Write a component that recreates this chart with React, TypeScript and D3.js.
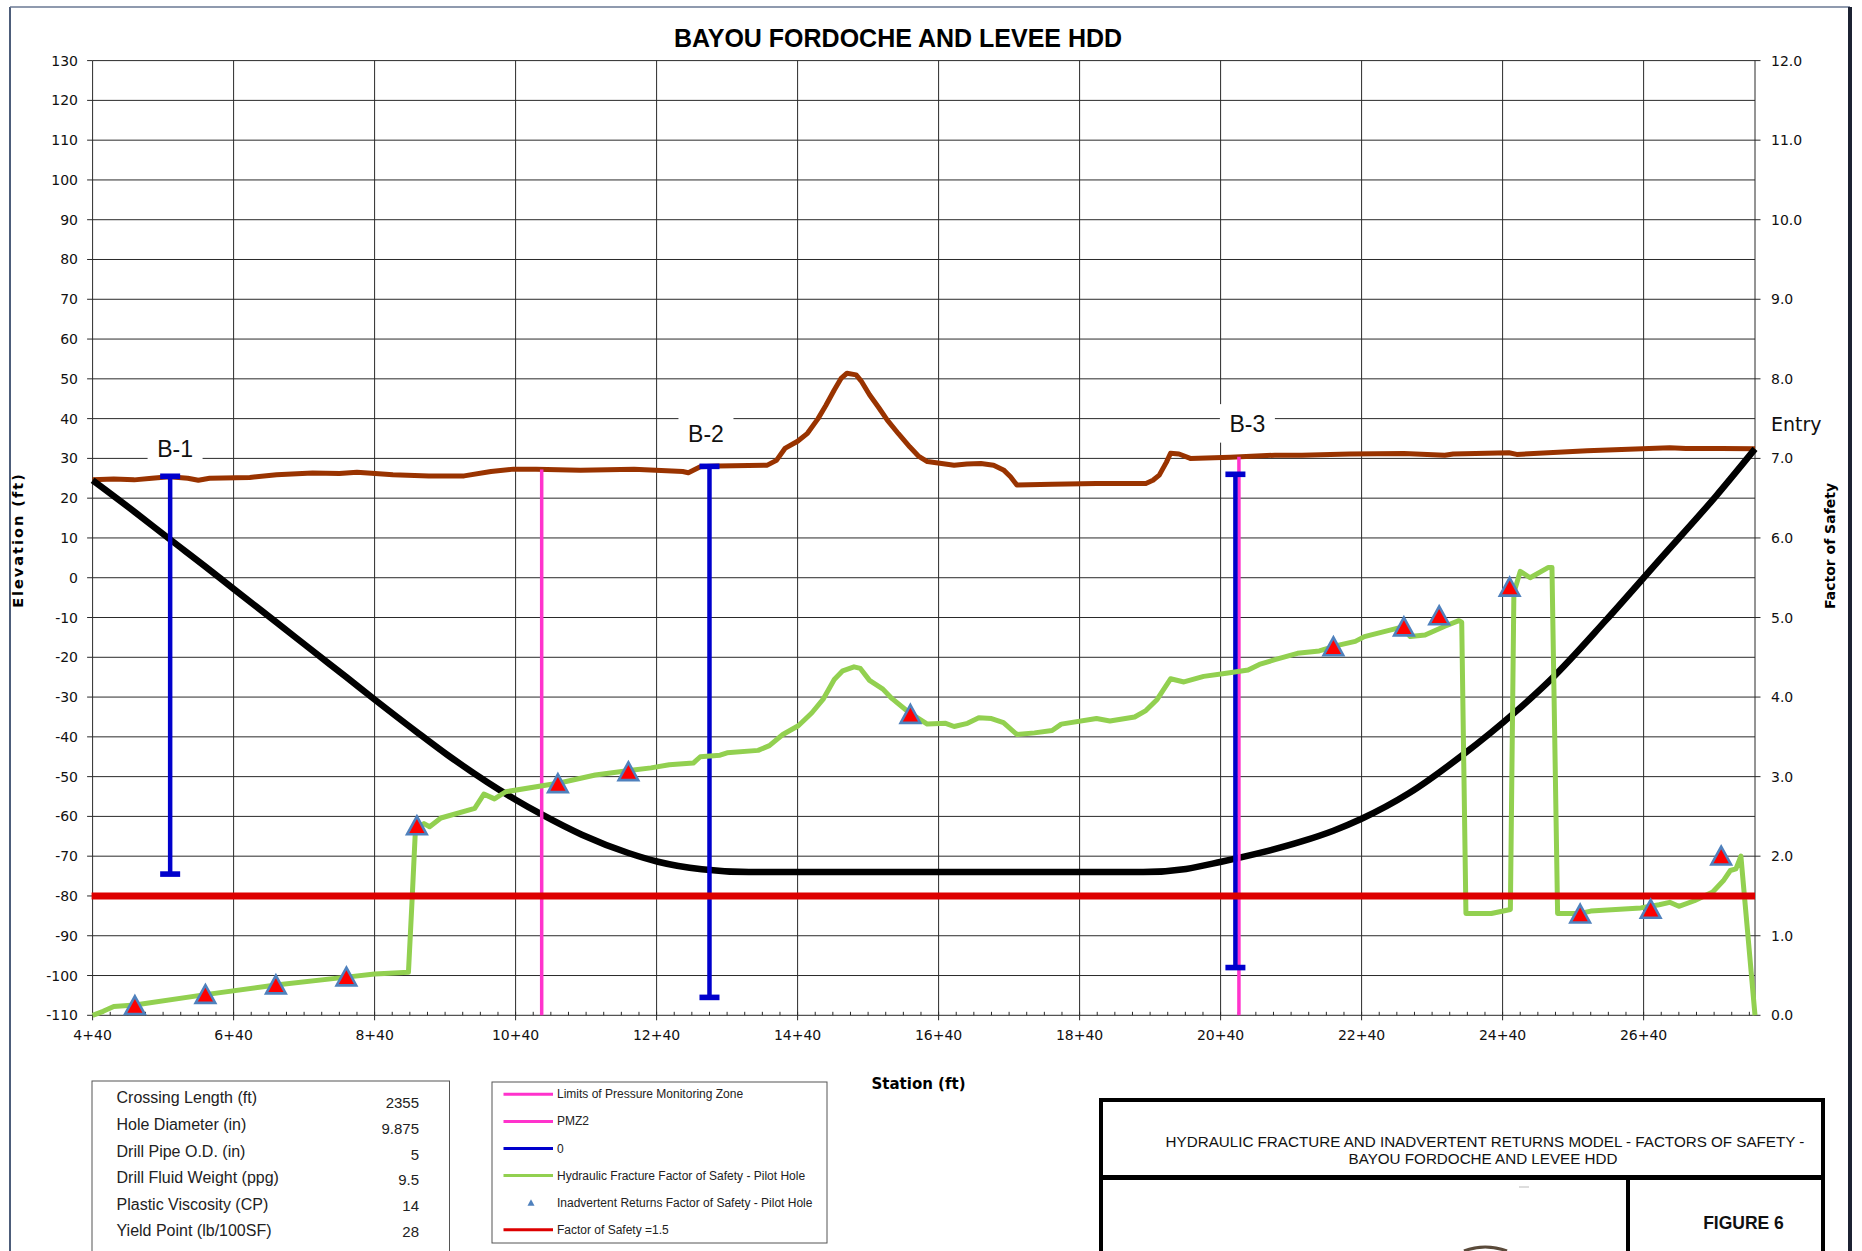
import React from 'react';
import * as d3 from 'd3';

// ---------- DATA ----------
const groundStation = [440, 470, 499, 524, 549, 575, 590, 606, 663, 701, 752, 790, 815, 866, 917, 967, 1005, 1037, 1069, 1132, 1208, 1277, 1285, 1302, 1327, 1397, 1410, 1422, 1440, 1454, 1469, 1480, 1492, 1502, 1510, 1523, 1530, 1542, 1555, 1567, 1583, 1599, 1612, 1624, 1662, 1680, 1700, 1718, 1732, 1742, 1751, 1801, 1864, 1934, 1944, 1953, 1963, 1969, 1981, 1997, 2054, 2117, 2155, 2223, 2300, 2358, 2370, 2449, 2460, 2560, 2677, 2700, 2750, 2798];
const groundElev = [24.6, 24.8, 24.6, 25.0, 25.4, 25.0, 24.5, 25.0, 25.2, 25.9, 26.3, 26.2, 26.5, 25.9, 25.6, 25.6, 26.7, 27.3, 27.3, 27.0, 27.3, 26.7, 26.4, 27.9, 28.1, 28.3, 29.5, 32.5, 34.3, 36.3, 40.0, 43.3, 47.2, 50.2, 51.4, 51.0, 49.5, 46.0, 42.8, 39.7, 36.2, 32.9, 30.5, 29.2, 28.3, 28.6, 28.7, 28.3, 27.1, 25.4, 23.3, 23.5, 23.7, 23.7, 24.5, 25.8, 29.0, 31.3, 31.1, 30.0, 30.3, 30.8, 30.8, 31.1, 31.2, 30.8, 31.1, 31.4, 31.0, 31.9, 32.7, 32.5, 32.5, 32.4];

const pilotStation = [440, 500, 550, 600, 640, 700, 753, 800, 840, 900, 943, 1000, 1040, 1077, 1134, 1200, 1242, 1304, 1371, 1930, 1991, 2041, 2100, 2155, 2200, 2240, 2307, 2383, 2459, 2510, 2586, 2662, 2743, 2798];
const pilotElev = [24.5, 16.5, 9.6, 2.8, -2.8, -11.1, -18.5, -25.0, -30.6, -38.8, -44.5, -51.4, -55.8, -59.5, -64.6, -69.2, -71.4, -73.3, -74.0, -74.0, -73.2, -71.4, -69.0, -66.3, -63.6, -60.6, -54.2, -44.6, -33.6, -25.3, -10.8, 4.4, 20.6, 32.4];

const hfStation = [440, 455, 470, 500, 600, 700, 800, 840, 888, 893, 898, 910, 918, 934, 982, 995, 1010, 1026, 1102, 1153, 1204, 1232, 1258, 1292, 1302, 1330, 1340, 1384, 1400, 1419, 1441, 1460, 1476, 1492, 1504, 1520, 1529, 1542, 1561, 1574, 1599, 1624, 1650, 1662, 1681, 1697, 1715, 1732, 1751, 1776, 1801, 1814, 1864, 1883, 1918, 1934, 1950, 1969, 1988, 2016, 2048, 2079, 2095, 2117, 2149, 2180, 2206, 2231, 2244, 2297, 2309, 2330, 2358, 2378, 2382, 2388, 2424, 2451, 2456, 2465, 2479, 2505, 2510, 2518, 2550, 2565, 2636, 2662, 2677, 2690, 2712, 2738, 2753, 2763, 2771, 2778, 2798];
const hfFactor = [0.0, 0.05, 0.11, 0.13, 0.26, 0.38, 0.48, 0.52, 0.54, 1.42, 2.35, 2.41, 2.37, 2.48, 2.60, 2.78, 2.72, 2.81, 2.92, 3.02, 3.08, 3.11, 3.15, 3.17, 3.25, 3.27, 3.30, 3.33, 3.39, 3.53, 3.64, 3.80, 3.97, 4.22, 4.33, 4.38, 4.36, 4.21, 4.10, 3.98, 3.80, 3.66, 3.67, 3.63, 3.67, 3.74, 3.73, 3.68, 3.53, 3.55, 3.58, 3.66, 3.73, 3.70, 3.75, 3.83, 3.97, 4.23, 4.19, 4.26, 4.30, 4.34, 4.41, 4.47, 4.55, 4.58, 4.65, 4.70, 4.76, 4.88, 4.76, 4.78, 4.89, 4.96, 4.94, 1.28, 1.28, 1.33, 5.31, 5.58, 5.50, 5.63, 5.63, 1.28, 1.28, 1.31, 1.35, 1.39, 1.42, 1.37, 1.44, 1.55, 1.69, 1.82, 1.84, 2.00, 0.0];

const irStation = [500, 600, 700, 800, 900, 1100, 1200, 1600, 2200, 2300, 2350, 2450, 2550, 2650, 2750];
const irFactor = [0.12, 0.26, 0.38, 0.48, 2.38, 2.91, 3.06, 3.78, 4.63, 4.88, 5.02, 5.38, 1.27, 1.33, 2.0];

const boreName = ['B-1', 'B-2', 'B-3'];
const boreStation = [550, 1315, 2061];
const boreTop = [25.5, 28.0, 26.0];
const boreBottom = [-74.5, -105.5, -98.0];
const boreLabelStation = [557, 1310, 2078];
const boreLabelElev = [30.4, 34.2, 36.6];

const pmzStation = [1077, 2066];
const pmzTop = [27.2, 30.4];

const fosLimit = 1.5;

const xTickStations = [440, 640, 840, 1040, 1240, 1440, 1640, 1840, 2040, 2240, 2440, 2640];
const xTickLabels = ['4+40', '6+40', '8+40', '10+40', '12+40', '14+40', '16+40', '18+40', '20+40', '22+40', '24+40', '26+40'];
const leftTicks = [-110, -100, -90, -80, -70, -60, -50, -40, -30, -20, -10, 0, 10, 20, 30, 40, 50, 60, 70, 80, 90, 100, 110, 120, 130];
const rightTicks = [0, 1, 2, 3, 4, 5, 6, 7, 8, 9, 10, 11, 12];

const paramLabels = ['Crossing Length (ft)', 'Hole Diameter (in)', 'Drill Pipe O.D. (in)', 'Drill Fluid Weight (ppg)', 'Plastic Viscosity (CP)', 'Yield Point (lb/100SF)'];
const paramValues = ['2355', '9.875', '5', '9.5', '14', '28'];

const legendLabels = ['Limits of Pressure Monitoring Zone', 'PMZ2', '0', 'Hydraulic Fracture Factor of Safety - Pilot Hole', 'Inadvertent Returns Factor of Safety - Pilot Hole', 'Factor of Safety =1.5'];
const legendColors = ['#FF33CC', '#FF33CC', '#0000CC', '#92D050', '#4F81BD', '#DD0000'];
const legendKinds = ['line', 'line', 'line', 'line', 'marker', 'line'];

// ---------- LAYOUT ----------
const W = 1862;
const H = 1251;
const PL = 92.6, PR = 1755, PT = 60.6, PB = 1015.3;

const ARIAL = '"Liberation Sans", Arial, sans-serif';
const VERD = '"DejaVu Sans", Verdana, sans-serif';

export default function App() {
  const x = d3.scaleLinear().domain([440, 2798]).range([PL, PR]);
  const yL = d3.scaleLinear().domain([-110, 130]).range([PB, PT]);
  const yR = d3.scaleLinear().domain([0, 12]).range([PB, PT]);

  const groundLine = d3.line<number>().x((d, i) => x(groundStation[i])).y((d) => yL(d));
  const pilotLine = d3.line<number>().x((d, i) => x(pilotStation[i])).y((d) => yL(d)).curve(d3.curveMonotoneX);
  const hfLine = d3.line<number>().x((d, i) => x(hfStation[i])).y((d) => yR(d));

  const minorTicks = d3.range(440, 2798, 25);
  const gridV = [...xTickStations, 2798];

  const tri = (cx: number, cy: number) =>
    `M${cx},${cy - 9.5}L${cx + 9.8},${cy + 8.3}L${cx - 9.8},${cy + 8.3}Z`;

  return (
    <svg width={W} height={H} viewBox={`0 0 ${W} ${H}`} style={{ position: 'absolute', left: 0, top: 0, background: '#fff' }}>
      <rect x={0} y={0} width={W} height={H} fill="#fff" />
      {/* outer frame */}
      <line x1={10} y1={7} x2={10} y2={H} stroke="#4d5d7a" strokeWidth={2} />
      <line x1={10} y1={7} x2={1850} y2={7} stroke="#6a7893" strokeWidth={1.5} />
      <line x1={1850} y1={7} x2={1850} y2={H} stroke="#1c2233" strokeWidth={4} />

      {/* title */}
      <text x={898} y={46.7} textAnchor="middle" fontFamily={ARIAL} fontWeight="bold" fontSize={25} fill="#000">BAYOU FORDOCHE AND LEVEE HDD</text>

      {/* grid */}
      <g stroke="#2a2a2a" strokeWidth={1}>
        {leftTicks.map((t) => (
          <line key={'h' + t} x1={PL} x2={PR} y1={yL(t)} y2={yL(t)} />
        ))}
        {gridV.map((s) => (
          <line key={'v' + s} x1={x(s)} x2={x(s)} y1={PT} y2={PB} />
        ))}
        {leftTicks.map((t) => (
          <line key={'lt' + t} x1={PL - 5.5} x2={PL} y1={yL(t)} y2={yL(t)} />
        ))}
        {rightTicks.map((t) => (
          <line key={'rt' + t} x1={PR} x2={PR + 5.5} y1={yR(t)} y2={yR(t)} />
        ))}
        {xTickStations.map((s) => (
          <line key={'xt' + s} x1={x(s)} x2={x(s)} y1={PB} y2={PB + 5} />
        ))}
        {minorTicks.map((s) => (
          <line key={'mt' + s} x1={x(s)} x2={x(s)} y1={PB - 3.5} y2={PB} />
        ))}
      </g>

      {/* tick labels */}
      <g fontFamily={VERD} fontSize={14} fill="#111">
        {leftTicks.map((t) => (
          <text key={'ll' + t} x={78} y={yL(t) + 5} textAnchor="end">{t}</text>
        ))}
        {rightTicks.map((t) => (
          <text key={'rl' + t} x={1771} y={yR(t) + 5} textAnchor="start">{t.toFixed(1)}</text>
        ))}
        {xTickStations.map((s, i) => (
          <text key={'xl' + s} x={x(s)} y={1040} textAnchor="middle">{xTickLabels[i]}</text>
        ))}
      </g>

      {/* axis titles */}
      <text transform="translate(23,540) rotate(-90)" textAnchor="middle" fontFamily={VERD} fontWeight="bold" fontSize={14.5} letterSpacing={2} fill="#000">Elevation (ft)</text>
      <text transform="translate(1835,546) rotate(-90)" textAnchor="middle" fontFamily={VERD} fontWeight="bold" fontSize={14} fill="#000">Factor of Safety</text>
      <text x={918.5} y={1088.5} textAnchor="middle" fontFamily={VERD} fontWeight="bold" fontSize={15} fill="#000">Station (ft)</text>

      {/* borehole label backgrounds */}
      {boreName.map((n, i) => {
        const cx = x(boreLabelStation[i]);
        const by = yL(boreLabelElev[i]);
        return (
          <g key={'bl' + n}>
            <rect x={cx - 27.5} y={by - 28} width={55} height={38.5} fill="#fff" />
            <text x={cx} y={by} textAnchor="middle" fontFamily={ARIAL} fontSize={23} fill="#111">{n}</text>
          </g>
        );
      })}
      <text x={1771} y={431} fontFamily={VERD} fontSize={19} fill="#111">Entry</text>

      {/* ground */}
      <path d={groundLine(groundElev) || ''} fill="none" stroke="#993300" strokeWidth={5} strokeLinejoin="round" />
      {/* pilot hole */}
      <path d={pilotLine(pilotElev) || ''} fill="none" stroke="#000" strokeWidth={6.5} strokeLinejoin="round" />

      {/* pressure monitoring zone limits */}
      {pmzStation.map((s, i) => (
        <line key={'pm' + i} x1={x(s)} x2={x(s)} y1={yL(pmzTop[i])} y2={PB} stroke="#FF33CC" strokeWidth={3.5} />
      ))}

      {/* boreholes */}
      {boreStation.map((s, i) => (
        <g key={'bh' + i} fill="#0000CC">
          <line x1={x(s)} x2={x(s)} y1={yL(boreTop[i])} y2={yL(boreBottom[i])} stroke="#0000CC" strokeWidth={4.5} />
          <rect x={x(s) - 10} y={yL(boreTop[i]) - 2.8} width={20} height={5.6} />
          <rect x={x(s) - 10} y={yL(boreBottom[i]) - 2.8} width={20} height={5.6} />
        </g>
      ))}

      {/* hydraulic fracture FoS */}
      <path d={hfLine(hfFactor) || ''} fill="none" stroke="#92D050" strokeWidth={5} strokeLinejoin="round" />

      {/* FoS limit */}
      <line x1={PL - 1} x2={PR} y1={yR(fosLimit)} y2={yR(fosLimit)} stroke="#DD0000" strokeWidth={7} />

      {/* inadvertent returns markers */}
      {irStation.map((s, i) => (
        <path key={'ir' + i} d={tri(x(s), yR(irFactor[i]))} fill="#FF0000" stroke="#4F81BD" strokeWidth={2.6} strokeLinejoin="miter" />
      ))}

      {/* parameter box */}
      <rect x={92} y={1081} width={357.5} height={200} fill="#fff" stroke="#555" strokeWidth={1} />
      {paramLabels.map((l, i) => (
        <g key={'pl' + i}>
          <text x={116.5} y={1103.3 + i * 26.6} fontFamily={ARIAL} fontSize={16} fill="#222">{l}</text>
          <text x={419} y={1108.3 + i * 25.7} textAnchor="end" fontFamily={ARIAL} fontSize={15} fill="#222">{paramValues[i]}</text>
        </g>
      ))}

      {/* legend */}
      <rect x={492} y={1082} width={335} height={161} fill="#fff" stroke="#555" strokeWidth={1} />
      {legendLabels.map((l, i) => {
        const cy = 1094.3 + i * 27.1;
        return (
          <g key={'lg' + i}>
            {legendKinds[i] === 'line' ? (
              <line x1={503.5} x2={553} y1={cy} y2={cy} stroke={legendColors[i]} strokeWidth={3} />
            ) : (
              <path d={`M531,${cy - 3.5}L534.5,${cy + 3}L527.5,${cy + 3}Z`} fill={legendColors[i]} />
            )}
            <text x={557} y={cy + 4} fontFamily={ARIAL} fontSize={12} fill="#222">{l}</text>
          </g>
        );
      })}

      {/* title block */}
      <rect x={1101} y={1100} width={722} height={200} fill="#fff" stroke="#000" strokeWidth={4} />
      <line x1={1101} x2={1823} y1={1177.5} y2={1177.5} stroke="#000" strokeWidth={5} />
      <line x1={1628} x2={1628} y1={1177.5} y2={H} stroke="#000" strokeWidth={4} />
      <text x={1485} y={1146.7} textAnchor="middle" fontFamily={ARIAL} fontSize={15.2} fill="#111">HYDRAULIC FRACTURE AND INADVERTENT RETURNS MODEL - FACTORS OF SAFETY -</text>
      <text x={1483} y={1163.5} textAnchor="middle" fontFamily={ARIAL} fontSize={15.2} fill="#111">BAYOU FORDOCHE AND LEVEE HDD</text>
      <text x={1743.5} y={1229.3} textAnchor="middle" fontFamily={ARIAL} fontWeight="bold" fontSize={17.5} fill="#111">FIGURE 6</text>
      <path d="M1464,1251 Q1485,1243 1507,1251" fill="none" stroke="#5a4a3a" strokeWidth={3} />
      <line x1={1519} x2={1529} y1={1187} y2={1187} stroke="#bbb" strokeWidth={1} />
    </svg>
  );
}
